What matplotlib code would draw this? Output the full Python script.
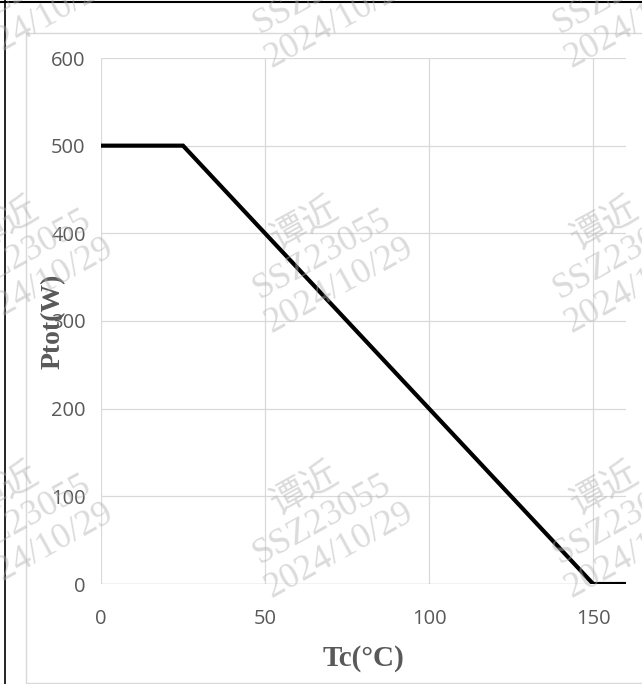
import numpy as np
import matplotlib
matplotlib.use('Agg')
import matplotlib.pyplot as plt
from matplotlib.patches import Rectangle
from matplotlib.lines import Line2D

# derating curve: Ptot vs case temperature
tc = [0, 25, 150, 160]
ptot = [500, 500, 0, 0]

xticks = [0, 50, 100, 150]
yticks = [0, 100, 200, 300, 400, 500, 600]

W, H = 642, 684
fig = plt.figure(figsize=(W / 100, H / 100), dpi=100)

# outer frame (black on left/top) and chart area border (light gray)
fig.add_artist(Line2D([5 / W, 5 / W], [0, 1], color='black', lw=1.2, transform=fig.transFigure))
fig.add_artist(Line2D([0, 1], [1 - 1.5 / H, 1 - 1.5 / H], color='black', lw=1.5, transform=fig.transFigure))
fig.add_artist(Rectangle((26 / W, 1 / H), (W + 10 - 26) / W, (H - 33 - 1) / H,
                         transform=fig.transFigure, fill=False, edgecolor='#d9d9d9', lw=1.0))

ax = fig.add_axes([101 / W, 1 - 584 / H, (626 - 101) / W, (584 - 58) / H])
ax.set_xlim(0, 160)
ax.set_ylim(0, 600)

for x in xticks:
    ax.axvline(x, color='#d9d9d9', lw=0.9, zorder=1)
for y in yticks[1:]:
    ax.axhline(y, color='#d9d9d9', lw=0.9, zorder=1)
ax.axhline(0, color='#bfbfbf', lw=1.0, zorder=1)

ax.plot(tc, ptot, color='black', lw=3, solid_joinstyle='miter', zorder=3)

for s in ax.spines.values():
    s.set_visible(False)
ax.set_xticks(xticks)
ax.set_yticks(yticks)
ax.tick_params(length=0, labelsize=14.5, labelcolor='#595959')
ax.tick_params(axis='x', pad=18)
ax.tick_params(axis='y', pad=11)
for lab in ax.get_xticklabels() + ax.get_yticklabels():
    lab.set_fontfamily('Open Sans')

fig.text(363 / W, 1 - 658 / H, 'Tc(°C)', ha='center', va='center', fontsize=21,
         fontweight='bold', family='Liberation Serif', color='#595959')
fig.text(53 / W, 1 - 321 / H, 'Ptot(W)', ha='center', va='center', fontsize=20,
         fontweight='bold', family='Liberation Serif', color='#595959', rotation=90)

# watermark grid, one line at a time so the latin part stays serif
rot = 29
step = 35  # px between lines
px, py = np.sin(np.radians(rot)), -np.cos(np.radians(rot))  # towards next line (y up)
wm_lines = [('谭近', 'Noto Sans CJK SC'), ('SSZ23055', 'Liberation Serif'),
            ('2024/10/29', 'Liberation Serif')]
for cx in [22, 322, 622]:
    for cy in [-10, 255, 520]:
        for k, (txt, fam) in enumerate(wm_lines):
            d = (k - 1) * step
            x = cx + d * px
            y = (H - cy) + d * py
            fig.text(x / W, y / H, txt, ha='center', va='center', fontsize=26,
                     rotation=rot, rotation_mode='anchor', color='#b0b0b0',
                     alpha=0.45, family=fam, zorder=5)

fig.savefig('out.png', dpi=100)
